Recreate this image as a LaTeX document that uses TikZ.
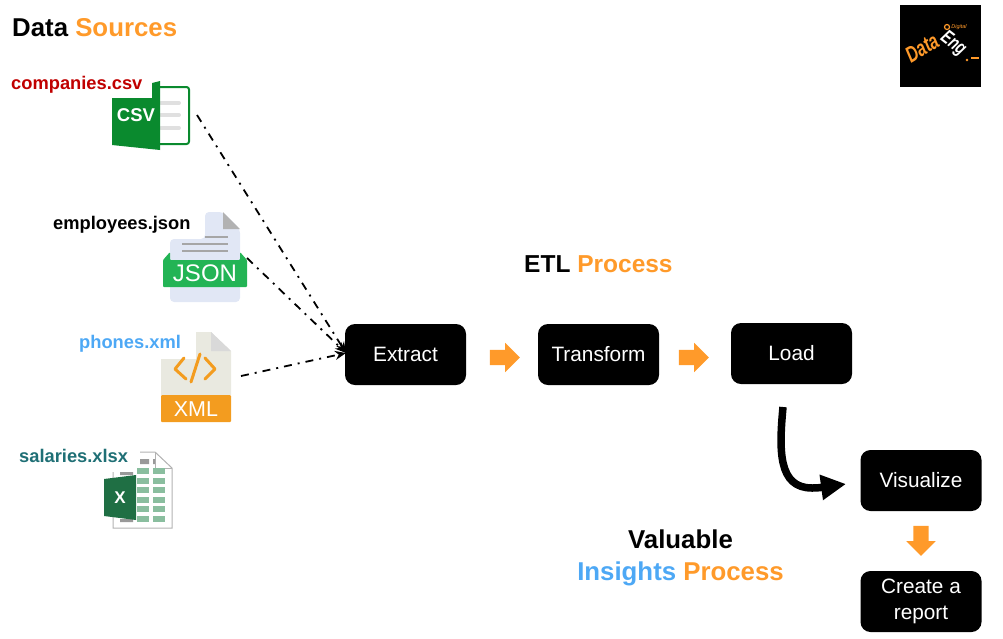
\documentclass[tikz,border=0pt]{standalone}
\usepackage{fontspec}
\setmainfont{Liberation Sans}
\usetikzlibrary{arrows.meta,shapes.arrows}

\definecolor{procorange}{HTML}{FF9A2A}
\definecolor{insightblue}{HTML}{4DA8F5}
\definecolor{csvgreen}{HTML}{0A8A2E}
\definecolor{jsongreen}{HTML}{23B455}
\definecolor{jsonpage}{HTML}{E1E7F5}
\definecolor{xmlpage}{HTML}{E9E9E0}
\definecolor{xmlorange}{HTML}{F39C1F}
\definecolor{xlsgreen}{HTML}{1F6F44}
\definecolor{xlscell}{HTML}{8ABE9F}

\tikzset{
    stepbox/.style={fill=black, text=white, rounded corners=10pt, minimum width=121pt,
        minimum height=61pt, align=center, inner sep=0pt, font=\fontsize{20.8}{26.5}\selectfont},
    filelabel/.style={font=\fontsize{18.3}{20}\selectfont\bfseries, inner sep=0pt},
    titlelabel/.style={font=\fontsize{25.8}{30}\selectfont\bfseries, inner sep=0pt},
    blockarrow/.style={single arrow, fill=procorange, inner xsep=0pt, inner ysep=7.5pt, minimum height=30pt,
        minimum width=29pt, single arrow head extend=7pt, single arrow tip angle=90},
    dotline/.style={-{Stealth[length=11pt,width=9pt]}, line width=1.8pt, dash pattern=on 8pt off 6pt on 2pt off 6pt},
}

\begin{document}
\begin{tikzpicture}[x=1pt,y=-1pt]

\useasboundingbox (0,0) rectangle (1003,638);

% titles
\node[titlelabel,anchor=west] (sourcestitle) at (12,28) {Data \textcolor{procorange}{Sources}};
\node[titlelabel,anchor=west,font=\fontsize{24.5}{30}\selectfont\bfseries] (etltitle) at (524,264) {ETL \textcolor{procorange}{Process}};
\node[titlelabel] (valuabletitle) at (680.5,539) {Valuable};
\node[titlelabel] (insightstitle) at (680.5,574) {\textcolor{insightblue}{Insights} \textcolor{procorange}{Process}};

% file names
\node[filelabel,anchor=west,text={rgb,255:red,192;green,0;blue,0}] (csvlabel) at (11,84.5) {companies.csv};
\node[filelabel,anchor=west] (jsonlabel) at (53,225) {employees.json};
\node[filelabel,anchor=west,text=insightblue] (xmllabel) at (79,344) {phones.xml};
\node[filelabel,anchor=west,text={rgb,255:red,31;green,111;blue,117}] (xlsxlabel) at (19,456) {salaries.xlsx};

% csv icon
\draw[csvgreen,line width=2pt,rounded corners=2.5pt] (155,87) -- (189,87) -- (189,144) -- (155,144);
\foreach \y in {103,115,128}
    \draw[line width=4pt,color=black!12,line cap=round] (161,\y) -- (179,\y);
\fill[csvgreen] (112,98) -- (152,98) -- (152,83) -- (160,81) -- (160,150) -- (112,145) -- cycle;
\node[text=white,font=\fontsize{18.5}{20}\selectfont\bfseries,inner sep=0pt] (csvtext) at (136,115) {CSV};

% json icon
\fill[jsonpage,rounded corners=4pt] (205,239) -- (205,212) -- (223,212) -- (240,229) -- (240,302) -- (170,302) -- (170,239) -- cycle;
\fill[black!30] (223,212) -- (240,229) -- (223,229) -- cycle;
\draw[black!35,line width=1.5pt] (205,237) -- (228,237) (182,244) -- (228,244) (182,251) -- (228,251);
\fill[jsongreen,rounded corners=1pt] (163,287) -- (163,260) -- (170,252) -- (170,260) -- (240,260) -- (240,252) -- (247,260) -- (247,287) -- cycle;
\node[text=white,font=\fontsize{24}{25}\selectfont,inner sep=0pt] (jsontext) at (205,273) {JSON};

% xml icon
\fill[xmlpage] (161,395) -- (161,359) -- (196,359) -- (196,332) -- (211,332) -- (231,351) -- (231,395) -- cycle;
\fill[black!15] (211,332) -- (231,351) -- (211,351) -- cycle;
\fill[xmlorange,rounded corners=1pt] (161,395) rectangle (231,422);
\draw[xmlorange,line width=3pt,line cap=round,line join=round]
    (184,358) -- (175,369) -- (186,379) (200,354) -- (191,382) (205,358) -- (215,369) -- (205,379);
\node[text=white,font=\fontsize{21.5}{22}\selectfont,inner sep=0pt] (xmltext) at (196,409) {XML};

% xlsx icon
\draw[black!30,line width=1pt] (113,472) -- (113,528) -- (172,528) -- (172,468) -- (155,452) -- (140,452);
\draw[black!30,line width=1pt] (155,452) -- (155,468) -- (172,468);
\fill[black!40] (140,459) rectangle (149,464) (153,459) rectangle (155,464) (120,472) rectangle (133,475) (120,519) rectangle (133,522);
\foreach \y in {468.3,477.7,487,496.7,506,515.7}
    \foreach \x in {137,153}
        \fill[xlscell] (\x,\y) rectangle ++(12,6);
\fill[xlsgreen] (104,479) -- (136,475) -- (136,520) -- (104,516) -- cycle;
\node[text=white,font=\fontsize{17}{18}\selectfont\bfseries,inner sep=0pt] (xlstext) at (120,498) {X};

% process boxes
\node[stepbox] (extract) at (405.5,354.5) {Extract};
\node[stepbox] (transform) at (598.5,354.5) {Transform};
\node[stepbox] (load) at (791.5,353.5) {Load};
\node[stepbox] (visualize) at (921,480.5) {Visualize};
\node[stepbox] (report) at (921,601.5) {Create a\\report};

% orange arrows between the boxes
\node[blockarrow] (arrowone) at (501,357.5) {};
\node[blockarrow] (arrowtwo) at (690,357.5) {};
\node[blockarrow,rotate=-90] (arrowthree) at (921,537) {};

% dash dot lines into extract
\coordinate (csvout) at (197,115);
\coordinate (jsonout) at (247,258);
\coordinate (xmlout) at (241,376);
\coordinate (extractin) at (346,353);
\draw[dotline] (csvout) -- (extractin);
\draw[dotline] (jsonout) -- (extractin);
\draw[dotline] (xmlout) -- (extractin);

% load to visualize
\coordinate (loadout) at (783,407);
\coordinate (visualizein) at (846,484);
\draw[line width=7.5pt,-{Triangle[length=25pt,width=24pt]}] (loadout) .. controls (779,450) and (778,488) .. (812,488) .. controls (820,488) and (824,487) .. (visualizein);

% logo
\fill[black] (900,5) rectangle (981,87);
\node[text=procorange,font=\fontsize{16}{16}\selectfont\bfseries\itshape,rotate=31,yscale=1.4,inner sep=0pt] (logodata) at (922,48) {Data};
\node[text=white,font=\fontsize{14}{14}\selectfont\bfseries\itshape,rotate=-38,yscale=1.4,inner sep=0pt] (logoeng) at (953,44) {Eng};
\node[text=procorange,font=\fontsize{5.5}{5.5}\selectfont\itshape,inner sep=0pt] (logodigital) at (959,27) {Digital};
\draw[procorange,line width=1.2pt] (947,27) circle (2.5);
\fill[procorange] (967,60) circle (1.3);
\draw[procorange,line width=2pt] (971,58) -- (979,58);

\end{tikzpicture}
\end{document}
